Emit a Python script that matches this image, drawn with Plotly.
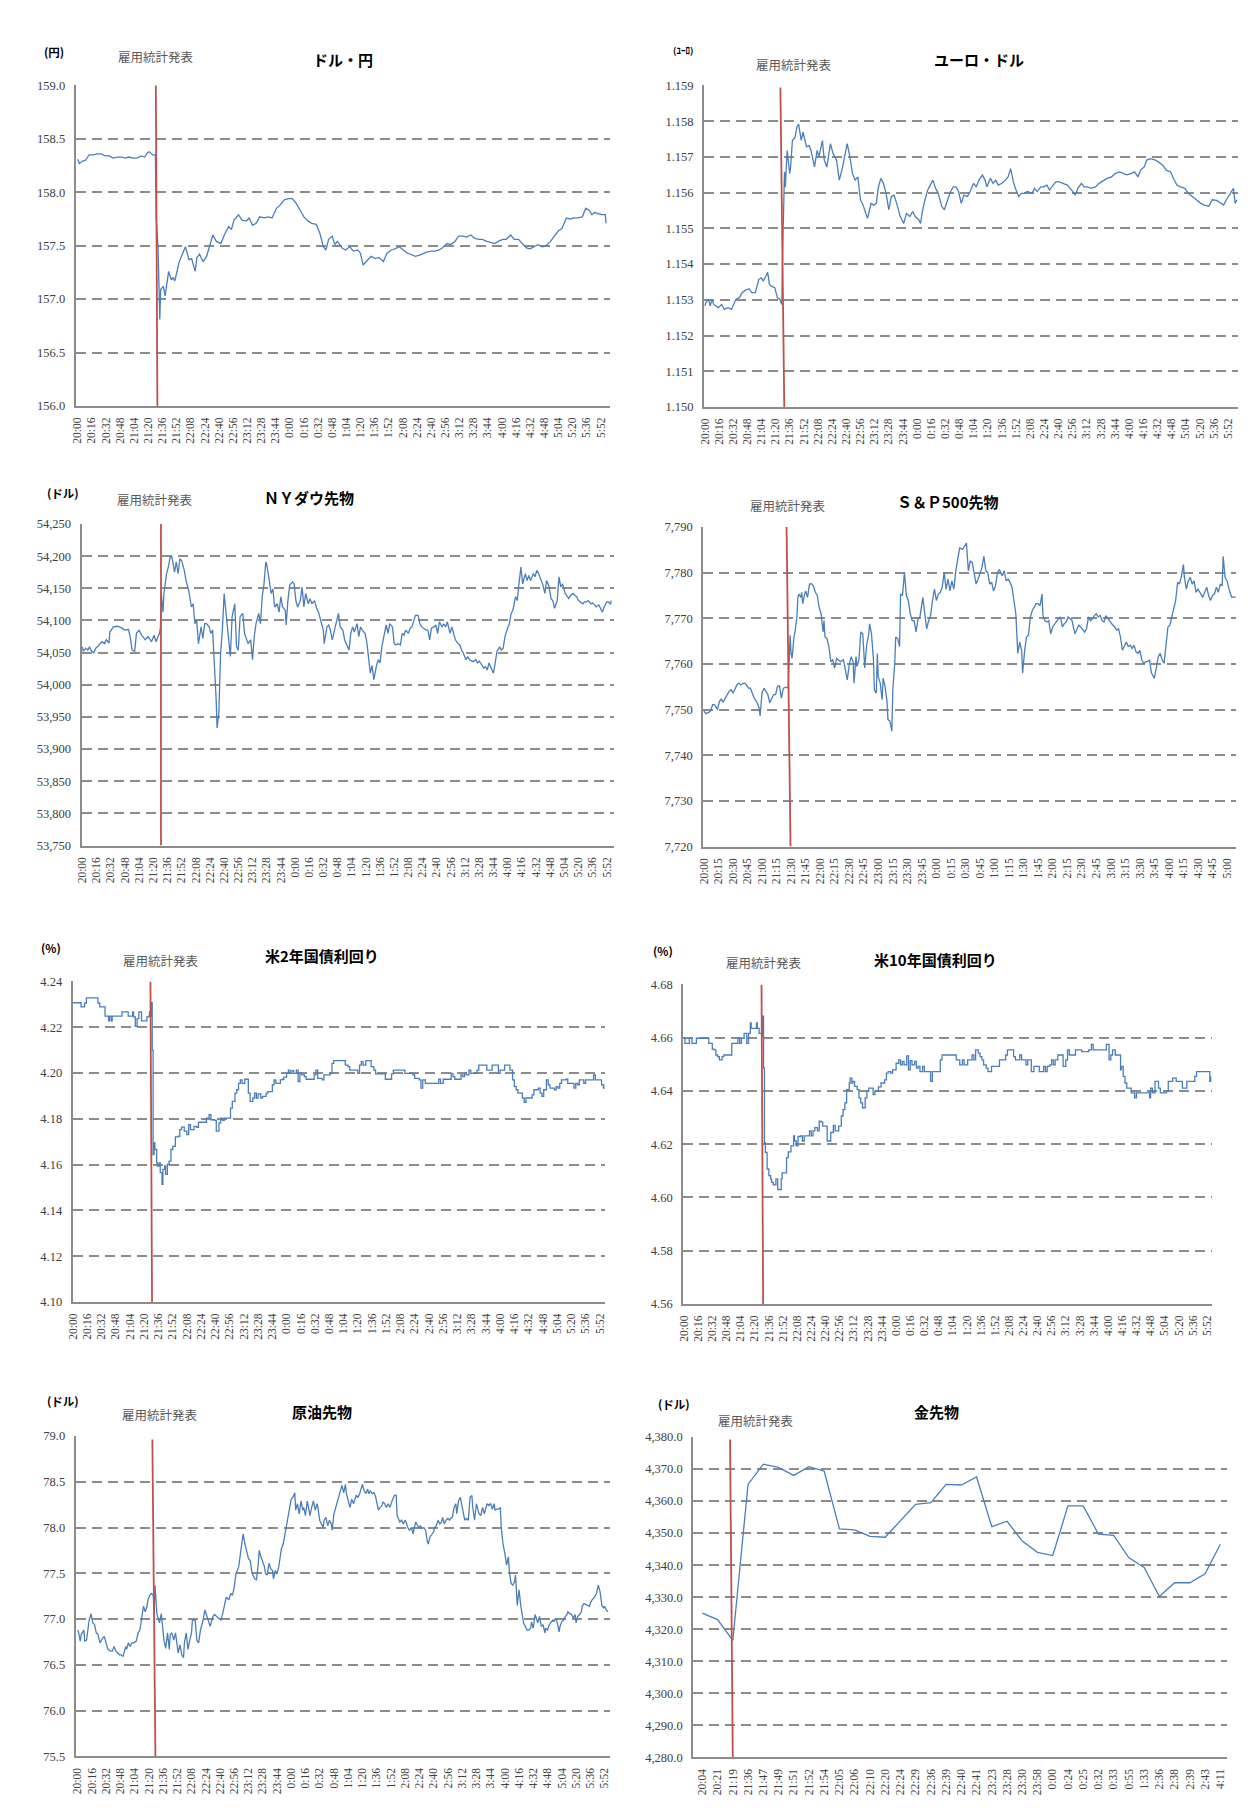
import plotly.graph_objects as go

W, H = 1252, 1814

# ---------------- tick labels ----------------
ticks16_text = ["20:00","20:16","20:32","20:48","21:04","21:20","21:36","21:52","22:08","22:24","22:40","22:56",
                "23:12","23:28","23:44","0:00","0:16","0:32","0:48","1:04","1:20","1:36","1:52","2:08","2:24",
                "2:40","2:56","3:12","3:28","3:44","4:00","4:16","4:32","4:48","5:04","5:20","5:36","5:52"]
ticks15_text = ["20:00","20:15","20:30","20:45","21:00","21:15","21:30","21:45","22:00","22:15","22:30","22:45",
                "23:00","23:15","23:30","23:45","0:00","0:15","0:30","0:45","1:00","1:15","1:30","1:45","2:00",
                "2:15","2:30","2:45","3:00","3:15","3:30","3:45","4:00","4:15","4:30","4:45","5:00"]
gold_cats = ["20:04","20:21","21:19","21:36","21:47","21:49","21:51","21:52","21:54","22:05","22:06","22:10",
             "22:20","22:24","22:29","22:36","22:39","22:40","22:41","23:23","23:28","23:30","23:58","0:00",
             "0:24","0:25","0:32","0:33","0:55","1:33","2:36","2:38","2:39","2:43","4:11"]

yt_usdjpy = [156.0, 156.5, 157.0, 157.5, 158.0, 158.5, 159.0]
yt_eurusd = [1.150, 1.151, 1.152, 1.153, 1.154, 1.155, 1.156, 1.157, 1.158, 1.159]
yt_dow = [53750, 53800, 53850, 53900, 53950, 54000, 54050, 54100, 54150, 54200, 54250]
yt_sp = [7720, 7730, 7740, 7750, 7760, 7770, 7780, 7790]
yt_us2 = [4.10, 4.12, 4.14, 4.16, 4.18, 4.20, 4.22, 4.24]
yt_us10 = [4.56, 4.58, 4.60, 4.62, 4.64, 4.66, 4.68]
yt_oil = [75.5, 76.0, 76.5, 77.0, 77.5, 78.0, 78.5, 79.0]
yt_gold = [4280, 4290, 4300, 4310, 4320, 4330, 4340, 4350, 4360, 4370, 4380]

# ---------------- series (minutes after 20:00, value) ----------------
usdjpy_t = [0,2,5,9,13,18,22,27,31,36,40,45,50,54,58,63,67,72,76,79,81,83,85,88,89,91,93,94,97,99,101,103,106,108,
            110,112,115,119,122,126,129,133,135,138,142,146,148,153,157,162,166,171,174,177,182,186,191,194,198,202,
            206,211,216,220,225,229,234,238,243,247,252,256,261,265,270,274,278,281,284,288,291,294,299,303,308,312,
            317,320,323,328,332,337,341,346,350,355,359,364,368,373,377,382,386,391,395,400,404,409,413,418,422,427,
            431,436,440,445,449,454,458,463,467,472,476,481,485,490,494,499,503,508,512,517,521,526,530,535,539,544,
            548,553,557,562,566,571,575,579,582,585,589,593,597,598]
usdjpy_v = [158.31,158.27,158.29,158.30,158.35,158.35,158.36,158.36,158.34,158.34,158.32,158.33,158.33,158.32,158.33,
            158.32,158.32,158.34,158.33,158.37,158.38,158.36,158.35,158.35,157.74,157.49,156.81,157.09,157.12,157.03,
            157.15,157.26,157.18,157.20,157.17,157.25,157.35,157.43,157.49,157.37,157.38,157.26,157.39,157.42,157.35,
            157.40,157.46,157.60,157.54,157.52,157.60,157.68,157.65,157.74,157.79,157.74,157.73,157.76,157.69,157.71,
            157.77,157.76,157.77,157.76,157.85,157.88,157.93,157.94,157.94,157.90,157.83,157.77,157.73,157.71,157.70,
            157.62,157.49,157.46,157.56,157.59,157.51,157.54,157.48,157.46,157.49,157.45,157.46,157.43,157.32,157.37,
            157.40,157.38,157.39,157.35,157.43,157.46,157.47,157.49,157.46,157.43,157.42,157.40,157.41,157.43,157.44,
            157.45,157.45,157.46,157.48,157.52,157.51,157.54,157.59,157.59,157.58,157.60,157.57,157.56,157.56,157.54,
            157.53,157.52,157.54,157.56,157.56,157.60,157.56,157.56,157.52,157.48,157.47,157.49,157.51,157.49,157.50,
            157.54,157.58,157.64,157.66,157.76,157.75,157.76,157.76,157.77,157.85,157.83,157.79,157.81,157.80,157.79,
            157.79,157.71]

eurusd_t = [0,1,4,6,8,10,15,19,22,26,30,33,35,39,42,46,50,53,57,61,64,66,69,71,73,75,79,82,85,87,88,89,90,91,93,96,
            97,99,102,104,106,109,111,115,118,120,124,127,129,133,135,138,142,145,149,152,155,158,161,164,167,170,173,
            176,179,182,184,188,191,194,196,199,202,205,208,211,214,217,219,221,225,228,232,235,238,242,244,246,249,
            252,255,258,261,264,268,271,274,278,281,284,287,290,293,297,300,304,307,310,314,317,319,323,326,329,332,
            336,340,343,346,349,352,355,358,361,365,370,373,376,380,383,387,390,394,397,401,406,410,415,419,422,426,
            429,433,437,442,446,451,455,460,464,469,473,477,482,486,490,493,497,500,504,509,513,518,522,527,530,534,
            538,543,547,552,556,561,565,570,574,579,583,587,590,592,598,600,602]
eurusd_v = [1.15283,1.15292,1.15301,1.15283,1.15300,1.15287,1.15278,1.15287,1.15273,1.15278,1.15273,1.15292,1.15301,
            1.15306,1.15320,1.15327,1.15331,1.15320,1.15320,1.15357,1.15361,1.15352,1.15366,1.15377,1.15343,1.15338,
            1.15334,1.15306,1.15301,1.15287,1.15431,1.15580,1.15658,1.15616,1.15718,1.15653,1.15672,1.15746,1.15755,
            1.15783,1.15792,1.15746,1.15769,1.15728,1.15732,1.15718,1.15672,1.15718,1.15700,1.15746,1.15691,1.15672,
            1.15737,1.15709,1.15691,1.15635,1.15663,1.15700,1.15737,1.15700,1.15653,1.15635,1.15644,1.15580,1.15565,
            1.15542,1.15528,1.15570,1.15565,1.15570,1.15612,1.15640,1.15626,1.15598,1.15552,1.15589,1.15593,1.15570,
            1.15552,1.15533,1.15514,1.15542,1.15533,1.15547,1.15533,1.15524,1.15514,1.15547,1.15580,1.15607,1.15621,
            1.15635,1.15612,1.15598,1.15561,1.15552,1.15575,1.15603,1.15616,1.15616,1.15603,1.15570,1.15593,1.15589,
            1.15603,1.15626,1.15616,1.15635,1.15649,1.15635,1.15616,1.15640,1.15626,1.15635,1.15621,1.15626,1.15635,
            1.15644,1.15667,1.15630,1.15607,1.15589,1.15598,1.15598,1.15603,1.15598,1.15612,1.15603,1.15616,1.15616,
            1.15621,1.15607,1.15621,1.15630,1.15630,1.15626,1.15621,1.15607,1.15593,1.15612,1.15626,1.15616,1.15616,
            1.15612,1.15616,1.15626,1.15635,1.15640,1.15644,1.15653,1.15658,1.15653,1.15650,1.15653,1.15658,1.15644,
            1.15663,1.15672,1.15691,1.15695,1.15692,1.15686,1.15677,1.15663,1.15658,1.15640,1.15621,1.15616,1.15612,
            1.15598,1.15589,1.15580,1.15570,1.15565,1.15562,1.15580,1.15578,1.15572,1.15565,1.15580,1.15589,1.15612,
            1.15570,1.15580]

dow_t = [0,1,4,6,8,10,13,15,17,19,22,25,27,30,31,35,39,42,45,48,52,54,56,59,61,64,67,71,74,78,81,83,87,88,89,91,92,95,
         97,99,101,104,106,108,110,112,115,117,120,123,125,127,129,131,134,136,138,140,143,145,147,149,151,152,154,156,
         158,160,163,165,167,169,172,174,176,178,181,183,185,187,190,192,194,196,199,201,203,205,207,208,211,213,215,
         217,220,222,224,226,229,230,232,234,237,239,241,243,246,248,250,252,255,257,259,262,264,267,269,272,273,276,
         278,280,282,285,287,289,291,294,296,299,301,303,305,307,310,312,314,316,319,321,323,325,327,329,332,334,336,
         338,341,343,345,347,350,352,354,356,359,361,363,365,368,370,372,374,376,379,381,383,385,388,390,392,394,397,
         399,401,403,406,408,410,412,415,417,419,421,424,426,428,430,433,435,437,439,441,444,446,448,450,453,455,457,
         459,462,464,466,468,471,473,475,477,480,482,484,486,489,491,492,493,495,497,500,502,504,506,509,511,513,515,
         518,520,522,524,527,529,531,533,536,538,540,542,545,547,549,551,554,556,558,560,562,565,567,569,571,574,576,
         578,580,583,585,587,589,592,594,596,597]
dow_v = [54059,54052,54057,54054,54059,54053,54050,54057,54059,54062,54067,54064,54070,54065,54082,54090,54091,54090,
         54088,54085,54086,54075,54054,54052,54080,54085,54077,54070,54075,54067,54077,54067,54080,54088,54142,54113,
         54142,54173,54183,54198,54199,54175,54191,54173,54196,54193,54178,54162,54147,54121,54126,54095,54100,54064,
         54090,54072,54095,54095,54090,54080,54085,54039,53977,53933,53956,54049,54085,54142,54100,54080,54044,54106,
         54126,54059,54054,54106,54111,54080,54070,54064,54070,54039,54075,54095,54111,54095,54137,54157,54191,54188,
         54162,54142,54149,54121,54126,54113,54137,54121,54116,54093,54131,54155,54160,54157,54131,54121,54131,54152,
         54121,54142,54126,54134,54126,54131,54121,54111,54100,54085,54064,54090,54093,54085,54070,54090,54100,54111,
         54090,54085,54070,54059,54054,54080,54090,54082,54095,54075,54090,54085,54080,54067,54039,54018,54030,54008,
         54030,54039,54034,54059,54080,54093,54080,54095,54090,54064,54062,54064,54062,54080,54077,54085,54080,54088,
         54090,54100,54108,54108,54095,54090,54088,54085,54085,54070,54088,54090,54093,54080,54098,54090,54095,54090,
         54098,54080,54090,54080,54070,54064,54062,54054,54049,54039,54044,54039,54038,54036,54039,54034,54037,54032,
         54026,54028,54023,54034,54023,54018,54034,54052,54059,54054,54057,54075,54088,54095,54111,54116,54137,54131,
         54147,54157,54183,54157,54173,54162,54170,54162,54173,54168,54178,54173,54162,54155,54142,54162,54152,54134,
         54131,54119,54131,54168,54152,54157,54142,54137,54134,54139,54142,54139,54137,54131,54129,54126,54129,54129,
         54131,54126,54127,54124,54121,54124,54118,54113,54121,54129,54129,54125,54131]

sp_t = [0,2,5,7,9,11,14,16,18,20,22,24,26,28,30,32,34,36,38,40,42,44,46,48,50,52,55,57,58,60,62,64,66,68,70,72,74,76,
        78,80,82,85,87,89,90,91,93,94,96,97,98,100,101,102,104,105,107,109,111,113,115,117,119,121,123,124,125,127,129,
        131,133,135,137,139,141,144,146,148,150,152,154,155,157,158,160,162,164,166,168,170,171,173,175,176,178,179,180,
        182,184,185,187,189,190,192,194,195,197,198,200,202,203,205,207,209,211,213,215,217,219,221,223,226,228,230,
        232,234,236,238,240,242,244,246,248,250,252,254,256,258,260,262,264,267,269,271,273,275,277,279,281,283,285,
        287,289,291,293,295,297,299,301,303,305,308,310,312,314,316,318,320,322,324,326,328,329,331,333,335,337,339,
        341,343,345,347,349,350,352,354,356,358,360,362,364,366,368,370,372,374,376,378,380,383,385,387,389,391,393,
        395,397,399,401,403,405,407,409,411,413,415,417,419,421,424,426,428,430,432,434,436,438,440,442,444,446,448,
        450,452,454,456,458,460,462,465,467,469,471,473,475,477,479,481,483,485,487,489,491,493,495,496,498,500,502,
        504,506,508,510,512,515,517,519,521,523,525,527,529,531,533,535,536,538,540,541,543,545,547,549]
sp_v = [7749.7,7749.1,7749.4,7749.7,7751.1,7751.1,7750.0,7751.8,7752.3,7751.6,7752.5,7753.3,7754.0,7754.4,7753.6,
        7754.4,7755.4,7755.8,7755.4,7755.7,7755.8,7755.4,7754.7,7754.7,7753.6,7752.5,7751.5,7750.4,7748.6,7753.6,
        7754.7,7754.0,7753.3,7751.5,7752.5,7753.3,7753.3,7755.1,7755.2,7752.5,7754.7,7754.9,7754.7,7766.3,7762.3,
        7761.2,7765.9,7767.0,7770.3,7774.6,7775.3,7774.6,7775.7,7773.2,7775.3,7776.0,7774.6,7777.5,7777.6,7777.1,
        7775.7,7775.0,7772.4,7771.0,7767.0,7769.5,7765.9,7765.6,7763.8,7760.5,7760.9,7759.1,7761.2,7760.9,7760.5,
        7760.9,7758.7,7756.5,7759.8,7761.6,7760.5,7755.8,7761.6,7759.4,7760.9,7767.0,7766.6,7759.1,7764.1,7766.3,
        7768.8,7766.6,7760.9,7754.4,7753.6,7762.3,7757.2,7755.8,7752.2,7756.9,7755.1,7751.8,7747.8,7747.5,7745.3,
        7754.4,7760.1,7765.9,7765.6,7763.8,7775.3,7775.0,7780.0,7775.0,7773.9,7771.0,7769.5,7769.5,7767.0,7769.9,
        7770.3,7774.6,7771.0,7767.7,7769.5,7770.6,7773.9,7776.4,7773.9,7775.3,7775.7,7776.8,7780.0,7776.4,7778.6,
        7776.0,7778.2,7776.4,7780.4,7782.6,7785.4,7785.1,7785.8,7786.5,7780.4,7782.6,7782.2,7779.7,7777.5,7778.6,
        7779.7,7781.1,7783.6,7780.4,7780.0,7777.5,7777.9,7776.0,7777.1,7780.0,7780.7,7779.3,7780.4,7778.2,7778.6,
        7777.9,7776.8,7774.2,7771.0,7762.3,7764.8,7763.0,7758.0,7762.7,7765.9,7766.3,7770.3,7771.7,7772.4,7773.2,
        7773.2,7772.8,7775.3,7770.6,7769.5,7769.2,7769.5,7766.6,7768.1,7768.8,7769.2,7769.9,7770.3,7768.1,7768.8,
        7769.2,7770.3,7769.9,7769.5,7766.6,7767.4,7768.5,7768.1,7767.4,7767.0,7767.7,7770.3,7769.5,7769.9,7770.6,
        7771.0,7770.3,7770.6,7769.5,7769.2,7770.6,7769.9,7769.5,7768.8,7768.1,7767.4,7767.7,7765.9,7763.0,7763.8,
        7764.8,7763.8,7764.1,7763.4,7764.1,7762.7,7762.3,7763.0,7760.9,7760.1,7760.5,7760.5,7760.9,7758.0,7756.9,
        7759.1,7761.6,7762.3,7760.9,7760.1,7763.8,7768.1,7768.5,7770.3,7772.4,7773.9,7777.9,7777.5,7779.3,7781.8,
        7779.0,7776.4,7778.2,7779.0,7777.5,7778.2,7775.7,7776.4,7775.7,7774.6,7775.7,7776.8,7775.0,7773.9,7775.0,
        7775.3,7776.8,7775.7,7777.5,7777.1,7783.6,7779.0,7778.2,7777.1,7775.7,7774.6,7774.6,7774.7]

us2_t = [0,9,13,15,28,30,36,40,41,43,44,55,62,67,68,70,72,74,77,83,85,86,87,88,89,90,91,92,94,95,97,98,100,101,103,104,
         106,108,110,112,115,118,120,122,125,128,130,132,136,139,141,148,150,153,155,159,161,164,166,168,170,175,177,179,
         182,184,186,188,190,193,195,197,199,202,204,206,208,211,213,215,217,219,222,224,226,228,231,233,235,237,240,242,
         244,246,248,251,253,255,257,260,262,268,271,273,275,280,282,286,289,291,293,304,306,309,311,318,320,322,324,326,
         329,333,335,338,340,349,351,355,358,360,371,373,380,382,384,389,391,393,396,409,411,413,416,422,425,427,429,434,
         436,438,440,442,445,447,451,454,456,462,465,469,471,476,478,480,483,485,489,491,494,496,498,500,505,507,509,514,
         516,518,523,525,527,529,532,534,536,541,543,545,547,549,554,556,561,563,565,567,569,574,576,583,585,587,592,594,
         596,598]
us2_v = [4.2307,4.2289,4.2306,4.2328,4.2306,4.2289,4.2249,4.2228,4.2249,4.2228,4.2249,4.2267,4.2249,4.2267,4.2245,4.2204,
         4.2238,4.2267,4.2228,4.2245,4.2249,4.2267,4.2249,4.2307,4.2100,4.1644,4.1695,4.1666,4.1608,4.1594,4.1608,4.1565,
         4.1514,4.1579,4.1594,4.1557,4.1601,4.1615,4.1666,4.1680,4.1721,4.1724,4.1753,4.1764,4.1746,4.1731,4.1775,4.1753,
         4.1767,4.1763,4.1785,4.1785,4.1803,4.1818,4.1796,4.1793,4.1746,4.1782,4.1803,4.1793,4.1803,4.1803,4.1847,4.1876,
         4.1912,4.1927,4.1955,4.1970,4.1955,4.1973,4.1973,4.1912,4.1876,4.1891,4.1912,4.1891,4.1909,4.1891,4.1898,4.1898,
         4.1912,4.1919,4.1919,4.1948,4.1970,4.1955,4.1955,4.1970,4.1973,4.1982,4.1999,4.2013,4.1999,4.2011,4.1999,4.2013,
         4.1963,4.1999,4.1992,4.1984,4.1973,4.1973,4.1992,4.2013,4.1977,4.1970,4.1992,4.1992,4.1999,4.2042,4.2054,4.2054,
         4.2035,4.2028,4.2013,4.2013,4.1999,4.2035,4.2050,4.2035,4.2054,4.2054,4.2028,4.2013,4.1996,4.1996,4.1973,4.1973,
         4.1996,4.2013,4.2013,4.1999,4.1999,4.1992,4.1977,4.1970,4.1934,4.1970,4.1955,4.1955,4.1973,4.1955,4.1973,4.1973,
         4.1999,4.1984,4.1973,4.1973,4.1992,4.1984,4.1999,4.1992,4.2013,4.1999,4.1999,4.2013,4.2035,4.2035,4.2013,4.2013,
         4.2035,4.2035,4.1999,4.2013,4.2013,4.2035,4.2035,4.2013,4.1970,4.1941,4.1927,4.1912,4.1891,4.1872,4.1891,4.1891,
         4.1905,4.1927,4.1934,4.1912,4.1898,4.1927,4.1970,4.1948,4.1934,4.1927,4.1941,4.1934,4.1955,4.1970,4.1973,4.1955,
         4.1955,4.1934,4.1955,4.1948,4.1970,4.1955,4.1970,4.1970,4.1992,4.1970,4.1970,4.1948,4.1934,4.1955]

us10_t = [0,1,4,6,8,9,13,14,27,28,31,32,34,36,38,40,43,45,52,54,58,61,63,65,68,71,73,75,76,81,82,83,85,88,89,90,91,92,
          94,96,98,99,101,103,104,106,109,110,111,115,116,118,120,121,124,125,127,129,132,134,136,138,142,144,146,148,
          151,153,155,157,160,162,165,166,169,171,173,175,178,180,182,184,187,188,190,191,193,196,198,200,202,205,207,
          209,211,214,216,218,220,223,225,227,229,231,234,236,238,240,243,245,247,249,252,254,256,258,261,263,265,267,
          270,272,274,276,279,281,285,288,290,292,306,308,310,312,315,317,319,321,324,326,328,330,333,335,337,339,342,
          344,346,348,355,357,362,364,366,371,373,375,378,380,382,384,387,389,391,393,396,400,402,405,407,409,411,414,
          416,418,420,423,427,429,432,434,436,441,443,447,450,458,461,463,476,478,480,481,483,485,488,492,494,495,497,
          499,501,503,506,508,510,512,517,521,526,527,528,530,533,535,537,539,544,546,548,551,553,555,557,560,562,564,
          566,569,575,578,580,593,595,596]
us10_v = [4.6598,4.6579,4.6579,4.6598,4.6598,4.6579,4.6579,4.6598,4.6598,4.6579,4.6579,4.6557,4.6554,4.6535,4.6529,4.6517,
          4.6529,4.6535,4.6535,4.6579,4.6579,4.6598,4.6579,4.6598,4.6616,4.6579,4.6616,4.6656,4.6635,4.6635,4.6656,4.6635,
          4.6616,4.6604,4.6681,4.6486,4.6206,4.6169,4.6107,4.6082,4.6070,4.6057,4.6047,4.6047,4.6070,4.6030,4.6030,4.6070,
          4.6092,4.6092,4.6150,4.6171,4.6171,4.6194,4.6231,4.6212,4.6194,4.6229,4.6231,4.6212,4.6231,4.6231,4.6250,4.6231,
          4.6250,4.6262,4.6250,4.6287,4.6283,4.6268,4.6268,4.6212,4.6212,4.6244,4.6271,4.6250,4.6250,4.6268,4.6306,4.6330,
          4.6355,4.6405,4.6430,4.6448,4.6430,4.6436,4.6417,4.6405,4.6374,4.6355,4.6337,4.6374,4.6399,4.6411,4.6411,4.6386,
          4.6399,4.6399,4.6415,4.6430,4.6430,4.6442,4.6467,4.6473,4.6467,4.6479,4.6479,4.6504,4.6517,4.6498,4.6511,4.6498,
          4.6532,4.6479,4.6514,4.6498,4.6511,4.6486,4.6492,4.6473,4.6492,4.6473,4.6473,4.6473,4.6436,4.6473,4.6473,4.6473,
          4.6517,4.6535,4.6535,4.6517,4.6517,4.6498,4.6517,4.6498,4.6498,4.6517,4.6517,4.6535,4.6517,4.6554,4.6542,4.6529,
          4.6517,4.6498,4.6486,4.6473,4.6473,4.6492,4.6492,4.6517,4.6517,4.6535,4.6554,4.6554,4.6529,4.6517,4.6517,4.6535,
          4.6517,4.6517,4.6498,4.6517,4.6517,4.6473,4.6492,4.6492,4.6473,4.6473,4.6492,4.6473,4.6492,4.6498,4.6517,4.6498,
          4.6517,4.6535,4.6535,4.6492,4.6517,4.6554,4.6535,4.6535,4.6554,4.6554,4.6548,4.6554,4.6575,4.6554,4.6554,4.6575,
          4.6575,4.6517,4.6535,4.6554,4.6535,4.6535,4.6479,4.6492,4.6455,4.6430,4.6411,4.6411,4.6393,4.6393,4.6374,4.6393,
          4.6393,4.6393,4.6393,4.6374,4.6411,4.6393,4.6436,4.6436,4.6411,4.6393,4.6393,4.6399,4.6436,4.6436,4.6448,4.6448,
          4.6436,4.6436,4.6436,4.6411,4.6411,4.6436,4.6436,4.6455,4.6473,4.6473,4.6436,4.6455]

oil_t = [0,1,3,4,7,8,10,12,13,15,17,19,21,23,25,28,30,32,34,37,39,41,43,45,47,49,51,54,55,57,59,61,63,66,68,70,72,74,
         76,78,79,81,83,85,86,87,89,90,92,94,95,97,99,101,103,104,106,108,110,112,113,115,117,119,120,122,124,126,128,
         129,132,134,136,138,141,143,145,147,149,152,154,156,158,161,163,165,167,170,172,174,176,178,181,183,185,186,
         188,190,192,194,196,199,201,203,204,206,208,210,211,213,215,217,219,220,222,224,226,228,229,231,233,235,236,
         238,240,242,244,245,247,249,251,253,254,256,258,260,261,263,265,267,269,270,272,274,276,277,279,281,283,285,
         286,288,290,292,294,295,297,299,301,302,304,306,308,310,311,313,315,317,319,320,322,324,326,327,329,331,333,
         335,336,338,340,342,343,345,347,349,351,352,354,356,358,359,360,362,364,366,368,369,371,373,375,377,378,380,
         382,384,385,387,389,391,393,394,396,398,400,401,403,405,407,409,410,412,414,416,418,419,421,423,425,426,428,
         430,432,434,435,437,439,441,443,444,446,448,450,451,453,455,457,459,460,462,464,466,468,469,471,473,475,476,
         478,480,482,484,485,487,489,491,492,494,496,498,500,501,503,505,507,509,510,512,514,516,517,519,521,523,525,
         526,528,530,532,534,535,537,539,541,542,544,546,548,550,551,553,555,557,559,560,562,564,566,567,569,571,573,
         575,576,578,580,582,583,585,587,589,591,592,594,596]
oil_v = [76.88,76.86,76.76,76.83,76.88,76.76,76.77,76.90,76.99,77.06,76.96,76.94,76.85,76.83,76.74,76.79,76.81,76.74,
         76.67,76.65,76.65,76.70,76.65,76.63,76.61,76.61,76.59,76.70,76.67,76.74,76.70,76.74,76.74,76.76,76.85,76.88,
         77.01,77.14,77.08,77.14,77.21,77.26,77.28,77.26,77.06,77.37,77.06,77.03,76.96,77.06,76.96,76.77,76.68,76.85,
         76.67,76.83,76.85,76.77,76.85,76.68,76.63,76.72,76.61,76.58,76.74,76.85,76.67,76.77,76.85,76.99,76.99,76.77,
         76.74,76.88,76.99,77.10,77.03,76.99,76.92,77.03,77.05,77.03,77.01,76.99,77.06,77.17,77.24,77.21,77.28,77.26,
         77.35,77.50,77.57,77.72,77.86,77.93,77.82,77.72,77.66,77.64,77.50,77.44,77.43,77.61,77.75,77.68,77.61,77.57,
         77.50,77.48,77.61,77.55,77.53,77.44,77.53,77.50,77.57,77.68,77.77,77.82,77.93,78.04,78.10,78.22,78.31,78.33,
         78.38,78.19,78.26,78.15,78.29,78.19,78.22,78.13,78.29,78.19,78.13,78.22,78.29,78.19,78.26,78.22,78.08,78.04,
         78.00,78.08,78.11,78.02,78.08,78.04,77.97,78.15,78.22,78.29,78.33,78.38,78.46,78.38,78.47,78.37,78.29,78.22,
         78.31,78.26,78.29,78.35,78.33,78.37,78.44,78.47,78.40,78.37,78.42,78.37,78.40,78.37,78.38,78.33,78.28,78.19,
         78.22,78.24,78.28,78.26,78.22,78.26,78.22,78.26,78.31,78.35,78.35,78.13,78.11,78.06,78.08,78.04,78.08,78.06,
         78.00,77.97,78.00,77.93,77.99,78.06,78.02,78.00,78.02,77.99,78.00,77.97,77.84,77.82,77.90,77.93,77.95,78.00,
         78.02,78.08,78.04,78.06,78.11,78.04,78.08,78.10,78.08,78.10,78.11,78.22,78.26,78.15,78.29,78.33,78.22,78.11,
         78.08,78.10,78.08,78.33,78.35,78.22,78.08,78.26,78.19,78.15,78.13,78.22,78.15,78.22,78.26,78.24,78.26,78.20,
         78.26,78.19,78.20,78.20,78.22,78.00,77.82,77.72,77.59,77.68,77.53,77.39,77.37,77.41,77.48,77.15,77.32,77.14,
         77.03,76.96,76.92,76.88,76.88,76.90,76.97,76.90,77.05,76.99,76.96,77.03,76.92,76.94,76.85,76.90,76.88,76.94,
         76.96,76.99,76.97,77.01,76.96,76.86,76.92,76.97,76.99,77.03,77.05,77.08,77.06,77.05,77.01,77.05,76.96,77.03,
         77.05,77.08,77.14,77.17,77.16,77.15,77.14,77.17,77.21,77.23,77.26,77.28,77.37,77.30,77.15,77.12,77.14,77.10,
         77.08]

gold_v = [4325.0,4323.0,4316.5,4365.2,4371.5,4370.5,4368.0,4370.7,4369.3,4351.3,4351.0,4349.0,4348.7,4354.0,4359.0,
          4359.5,4365.2,4365.0,4367.5,4352.0,4353.7,4347.5,4344.0,4343.0,4358.5,4358.5,4349.7,4349.3,4342.3,4339.3,
          4330.2,4334.5,4334.5,4337.3,4346.5]

for a, b in [(usdjpy_t, usdjpy_v), (eurusd_t, eurusd_v), (dow_t, dow_v), (sp_t, sp_v), (us2_t, us2_v),
             (us10_t, us10_v), (oil_t, oil_v), (gold_cats, gold_v)]:
    assert len(a) == len(b), (len(a), len(b))


def to_min(lbl):
    h, m = map(int, lbl.split(":"))
    return ((h - 20) % 24) * 60 + m


t16 = [to_min(s) for s in ticks16_text]
t15 = [to_min(s) for s in ticks15_text]
gold_idx = list(range(len(gold_cats)))

# ---------------- layout per chart (pixel boxes: left, top, right, bottom) ----------------
charts = [
    dict(x=usdjpy_t, y=usdjpy_v, box=(62, 71, 599, 394), xr=[-2.2, 602], yt=yt_usdjpy, fmt="{:.1f}",
         xt=t16, xtx=ticks16_text, shape="linear", red=(88.5, 159.03, 90.3, 156.0),
         title="ドル・円", txy=(331, 45), unit="(円)", uxy=(40, 37), axy=(143, 42)),
    dict(x=eurusd_t, y=eurusd_v, box=(694, 71, 1231, 395), xr=[-0.9, 603.3], yt=yt_eurusd, fmt="{:.3f}",
         xt=t16, xtx=ticks16_text, shape="linear", red=(85.4, 1.15894, 89.8, 1.150),
         title="ユーロ・ドル", txy=(970, 45), unit="(ﾕｰﾛ)", uxy=(673, 36), axy=(784, 50)),
    dict(x=dow_t, y=dow_v, box=(68, 513, 603, 837), xr=[-0.9, 599.7], yt=yt_dow, fmt="{:,.0f}",
         xt=t16, xtx=ticks16_text, shape="linear", red=(88.7, 54259, 88.7, 53750),
         title="ＮＹダウ先物", txy=(297, 486), unit="(ドル)", uxy=(49, 482), axy=(142, 488)),
    dict(x=sp_t, y=sp_v, box=(693, 516, 1229, 838), xr=[-0.8, 549.4], yt=yt_sp, fmt="{:,.0f}",
         xt=t15, xtx=ticks15_text, shape="linear", red=(85.3, 7790.7, 89.4, 7720),
         title="Ｓ＆Ｐ500先物", txy=(939, 490), unit=None, uxy=None, axy=(778, 494)),
    dict(x=us2_t, y=us2_v, box=(59, 974, 594, 1297), xr=[-0.4, 597.5], yt=yt_us2, fmt="{:.2f}",
         xt=t16, xtx=ticks16_text, shape="hv", red=(87.0, 4.24, 88.8, 4.10),
         title="米2年国債利回り", txy=(310, 948), unit="(%)", uxy=(37, 940), axy=(148, 953)),
    dict(x=us10_t, y=us10_v, box=(673, 977, 1205, 1299), xr=[-0.9, 597.8], yt=yt_us10, fmt="{:.2f}",
         xt=t16, xtx=ticks16_text, shape="hv", red=(87.7, 4.68, 89.5, 4.56),
         title="米10年国債利回り", txy=(927, 952), unit="(%)", uxy=(653, 943), axy=(754, 955)),
    dict(x=oil_t, y=oil_v, box=(62, 1432, 599, 1755), xr=[-2.2, 597.8], yt=yt_oil, fmt="{:.1f}",
         xt=t16, xtx=ticks16_text, shape="linear", red=(84.0, 78.96, 87.4, 75.5),
         title="原油先物", txy=(310, 1407), unit="(ドル)", uxy=(49, 1397), axy=(147, 1410)),
    dict(x=gold_idx, y=gold_v, box=(683, 1433, 1220, 1756), xr=[-0.6, 34.45], yt=yt_gold, fmt="{:,.1f}",
         xt=gold_idx, xtx=gold_cats, shape="linear", red=(1.82, 4379.2, 2.0, 4280),
         title="金先物", txy=(928, 1407), unit="(ドル)", uxy=(664, 1400), axy=(746, 1416)),
]

BLUE = "#4A7EBB"
RED = "#C0504D"
GRID = "#8C8C8C"
TICKFONT = dict(family="Liberation Serif", size=11.5, color="#404040")
YTICKFONT = dict(family="Liberation Serif", size=12.5, color="#404040")
JP = "Noto Sans CJK JP"

fig = go.Figure()
layout = dict(width=W, height=H, margin=dict(l=0, r=0, t=0, b=0), paper_bgcolor="white",
              plot_bgcolor="white", showlegend=False)
shapes = []
annotations = []

for i, c in enumerate(charts, start=1):
    xa = "x" if i == 1 else f"x{i}"
    ya = "y" if i == 1 else f"y{i}"
    x0, y0, x1, y1 = c["box"]
    fig.add_trace(go.Scatter(x=c["x"], y=c["y"], mode="lines", xaxis=xa, yaxis=ya,
                             line=dict(color=BLUE, width=1.3, shape=c["shape"]), hoverinfo="skip"))
    layout["xaxis" if i == 1 else f"xaxis{i}"] = dict(
        domain=[x0 / W, x1 / W], anchor=ya, range=c["xr"], tickmode="array", tickvals=c["xt"],
        ticktext=c["xtx"], tickangle=-90, showgrid=False, zeroline=False, showline=True,
        linecolor=GRID, linewidth=2, ticks="", tickfont=TICKFONT, ticklabelstandoff=5)
    layout["yaxis" if i == 1 else f"yaxis{i}"] = dict(
        domain=[1 - y1 / H, 1 - y0 / H], anchor=xa, range=[c["yt"][0], c["yt"][-1]], tickmode="array",
        tickvals=c["yt"], ticktext=[c["fmt"].format(v) for v in c["yt"]], showgrid=True,
        gridcolor=GRID, gridwidth=2, griddash="10px,6px", zeroline=False, showline=True,
        linecolor=GRID, linewidth=2, ticks="", tickfont=YTICKFONT, ticklabelstandoff=6)
    rx0, ry0, rx1, ry1 = c["red"]
    shapes.append(dict(type="line", xref=xa, yref=ya, x0=rx0, y0=ry0, x1=rx1, y1=ry1,
                       line=dict(color=RED, width=1.8), layer="above"))
    tx, ty = c["txy"]
    annotations.append(dict(text="<b>" + c["title"] + "</b>", x=tx / W, y=1 - ty / H, xref="paper",
                            yref="paper", showarrow=False, xanchor="center", yanchor="middle",
                            font=dict(family=JP, size=15, color="black")))
    ax, ay = c["axy"]
    annotations.append(dict(text="雇用統計発表", x=ax / W, y=1 - ay / H, xref="paper", yref="paper",
                            showarrow=False, xanchor="center", yanchor="middle",
                            font=dict(family=JP, size=12.5, color="#595959")))
    if c["unit"]:
        ux, uy = c["uxy"]
        annotations.append(dict(text="<b>" + c["unit"] + "</b>", x=ux / W, y=1 - uy / H, xref="paper",
                                yref="paper", showarrow=False, xanchor="center", yanchor="middle",
                                font=dict(family=JP, size=11.5 if c["unit"] != "(ﾕｰﾛ)" else 9,
                                          color="black")))

layout["shapes"] = shapes
layout["annotations"] = annotations
fig.update_layout(**layout)
fig.write_html("out.html")
